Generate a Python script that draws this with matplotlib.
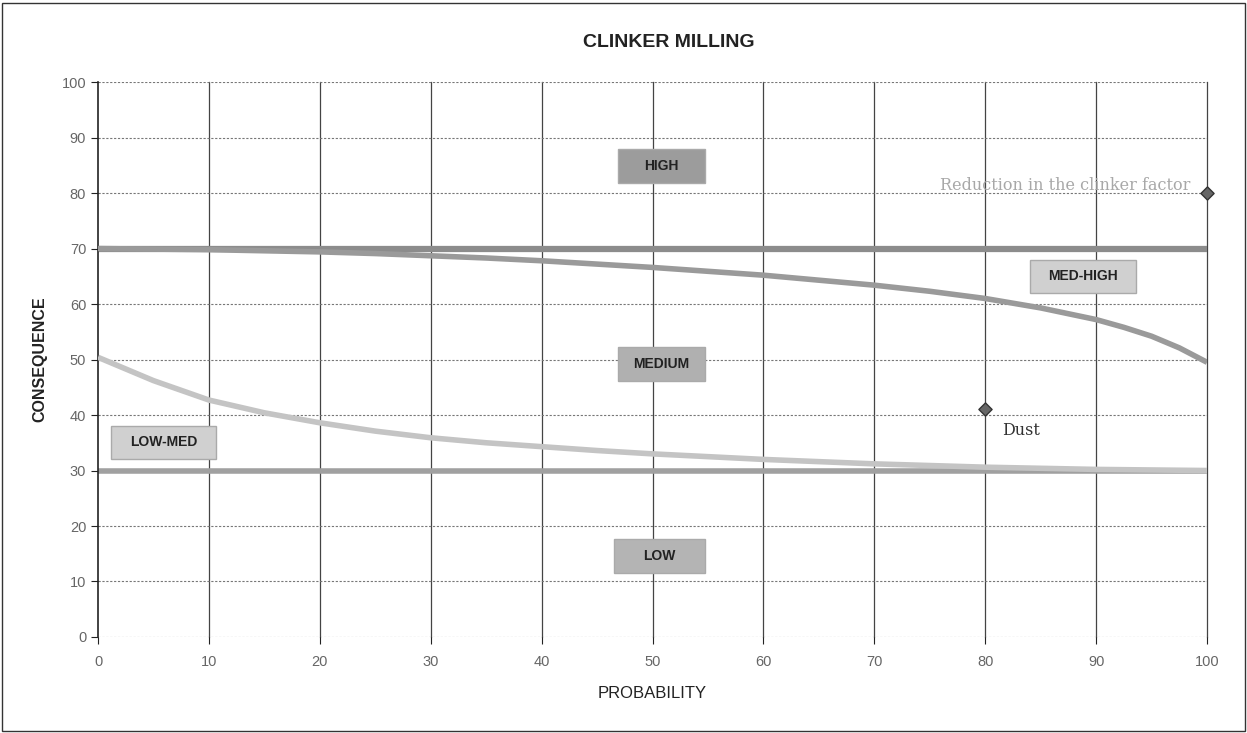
import matplotlib.pyplot as plt
from matplotlib.patches import Rectangle

# Données
prob = [0, 5, 10, 15, 20, 25, 30, 35, 40, 45, 50, 55, 60, 65, 70, 75, 80, 85, 90, 92.5, 95, 97.5, 100]
upper_curve = [70.0, 69.9, 69.8, 69.6, 69.4, 69.1, 68.7, 68.3, 67.8, 67.2, 66.6,
               65.9, 65.2, 64.3, 63.4, 62.3, 61.0, 59.3, 57.2, 55.8, 54.2, 52.1, 49.5]
lower_curve = [50.4, 46.2, 42.7, 40.4, 38.6, 37.1, 35.9, 35.0, 34.3, 33.6, 33.0,
               32.5, 32.0, 31.6, 31.2, 30.9, 30.6, 30.4, 30.2, 30.15, 30.1, 30.05, 30.0]
limit_high = 70
limit_low = 30

points_x = [100, 80]
points_y = [80, 41]
points_labels = ["Reduction in the clinker factor", "Dust"]

zones = ["HIGH", "MEDIUM", "LOW", "LOW-MED", "MED-HIGH"]
zones_x = [50.8, 50.8, 50.6, 5.9, 88.8]
zones_y = [84.9, 49.2, 14.6, 35.1, 65.0]
zones_w = [7.9, 7.9, 8.2, 9.5, 9.5]
zones_col = ["#9c9c9c", "#b0b0b0", "#b4b4b4", "#d0d0d0", "#d0d0d0"]

fig = plt.figure(figsize=(12.47, 7.33), dpi=100)
ax = fig.add_axes([0.0786, 0.131, 0.8894, 0.757])
fig.patches.append(Rectangle((0.002, 0.003), 0.996, 0.993, transform=fig.transFigure,
                             fill=False, edgecolor='#333333', linewidth=1))

ax.set_xlim(0, 100)
ax.set_ylim(0, 100)
ax.set_xticks(range(0, 101, 10))
ax.set_yticks(range(0, 101, 10))

# grille : verticales pleines, horizontales en pointillé
for x in range(10, 101, 10):
    ax.axvline(x, color='#444444', linewidth=0.9, zorder=1, clip_on=False)
for y in range(0, 101, 10):
    ax.axhline(y, color='#777777', linewidth=0.8, linestyle=(0, (2, 1.5)), zorder=1)

for s in ['top', 'right', 'bottom']:
    ax.spines[s].set_visible(False)
ax.spines['left'].set_color('#222222')
ax.spines['left'].set_linewidth(1.2)

ax.axhline(limit_high, color='#8c8c8c', linewidth=4.5, zorder=2)
ax.axhline(limit_low, color='#a0a0a0', linewidth=4, zorder=2)
ax.plot(prob, upper_curve, color='#9a9a9a', linewidth=4, zorder=3, solid_capstyle='butt')
ax.plot(prob, lower_curve, color='#c4c4c4', linewidth=4, zorder=3, solid_capstyle='butt')

ax.scatter(points_x, points_y, marker='D', s=45, color='#666666', edgecolor='#333333',
           zorder=5, clip_on=False)
ax.text(points_x[0] - 1.5, points_y[0] + 1.3, points_labels[0], ha='right', va='center',
        fontsize=11.5, family='DejaVu Serif', color='#a8a8a8')
ax.text(points_x[1] + 1.5, points_y[1] - 2.3, points_labels[1], ha='left', va='top',
        fontsize=11.5, family='DejaVu Serif', color='#333333')

# étiquettes de zones dans des cadres gris
for z, zx, zy, zw, zc in zip(zones, zones_x, zones_y, zones_w, zones_col):
    ax.add_patch(Rectangle((zx - zw / 2, zy - 3.0), zw, 6.0, facecolor=zc,
                           edgecolor='#aaaaaa', linewidth=1, zorder=6))
    ax.text(zx, zy, z, ha='center', va='center', fontsize=10, fontweight='bold',
            family='Liberation Sans', color='#222222', zorder=7)

ax.tick_params(axis='both', labelsize=10.5, labelcolor='#666666', color='#222222', length=5)
ax.tick_params(axis='x', pad=8)
for lab in ax.get_xticklabels() + ax.get_yticklabels():
    lab.set_family('Liberation Sans')

ax.set_title("CLINKER MILLING", fontsize=14, fontweight='bold', family='Liberation Sans',
             color='#222222', pad=25, x=0.515)
ax.set_xlabel("PROBABILITY", fontsize=12, family='Liberation Sans', color='#222222', labelpad=12)
ax.set_ylabel("CONSEQUENCE", fontsize=11.5, fontweight='bold', family='Liberation Sans',
              color='#222222', labelpad=10)

fig.savefig("out.png", dpi=100)
